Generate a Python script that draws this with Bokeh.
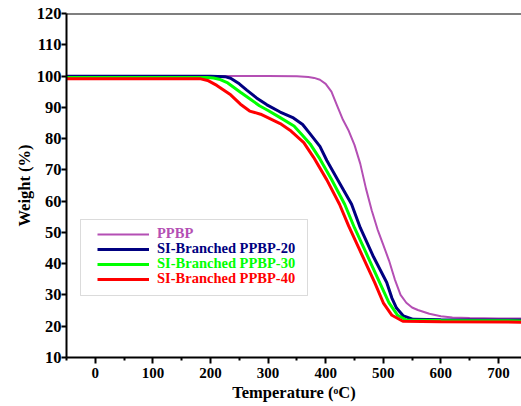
from bokeh.plotting import figure
from bokeh.models import Legend, LegendItem, Span, BoxAnnotation, FixedTicker, Range1d
from bokeh.embed import file_html
from bokeh.resources import INLINE

# ---------------- data ----------------
PPBP_T = [-50, 100, 200, 300, 350, 370, 380, 390, 400, 410, 420, 430, 440, 450, 460,
          470, 480, 490, 500, 510, 520, 530, 540, 550, 560, 580, 600, 620, 650, 700, 740]
PPBP_W = [100, 100, 100, 100, 99.9, 99.7, 99.4, 98.8, 97.5, 95.0, 90.5, 86.0, 82.5, 78.0, 72.0,
          64.0, 57.0, 51.0, 46.0, 41.0, 35.0, 30.0, 27.5, 26.0, 25.2, 24.0, 23.2, 22.8, 22.6, 22.5, 22.5]

SI20_T = [-50, 200, 225, 235, 250, 263, 280, 298, 321, 344, 360, 373, 390, 402, 425, 445,
          460, 483, 506, 515, 523, 535, 552, 600, 740]
SI20_W = [99.9, 99.9, 99.8, 99.3, 97.5, 95.5, 93.0, 90.8, 88.5, 86.6, 84.5, 81.5, 77.5, 73.0, 65.5, 59.0,
          51.5, 42.2, 34.0, 29.0, 25.8, 23.3, 22.2, 22.1, 22.0]

SI30_T = [-50, 195, 205, 215, 230, 252, 270, 285, 300, 321, 345, 360, 373, 390, 410, 433,
          450, 470, 495, 510, 525, 540, 600, 740]
SI30_W = [99.5, 99.5, 99.4, 99.0, 97.8, 94.8, 92.5, 90.5, 89.0, 86.7, 84.0, 81.0, 78.3, 73.5, 67.0, 59.0,
          51.5, 43.5, 33.5, 27.5, 23.5, 22.0, 21.8, 21.7]

SI40_T = [-50, 183, 195, 211, 235, 252, 268, 287, 321, 338, 362, 379, 402, 424, 440, 460,
          485, 500, 515, 534, 600, 740]
SI40_W = [99.1, 99.1, 98.6, 97.0, 94.0, 91.0, 88.8, 87.8, 84.8, 82.7, 78.7, 74.0, 66.8, 59.0, 52.0, 44.0,
          34.0, 27.5, 23.5, 21.6, 21.4, 21.3]

SERIES_NAMES = ["PPBP", "SI-Branched PPBP-20", "SI-Branched PPBP-30", "SI-Branched PPBP-40"]
X_TICKS = [0, 100, 200, 300, 400, 500, 600, 700]
X_MINOR = [-50, 50, 150, 250, 350, 450, 550, 650]
Y_TICKS = [10, 20, 30, 40, 50, 60, 70, 80, 90, 100, 110, 120]

# ---------------- styling ----------------
FONT = "Liberation Serif"
COLORS = ["#B44FB4", "#000080", "#00FF00", "#FF0000"]
WIDTHS = [2, 3, 3, 3]

p = figure(width=521, height=406, output_backend="svg", toolbar_location=None,
           x_range=Range1d(-50, 740), y_range=Range1d(10, 120),
           min_border_left=66, min_border_right=0, min_border_top=13, min_border_bottom=49)
p.outline_line_color = None
p.xgrid.visible = False
p.ygrid.visible = False
p.background_fill_color = "white"
p.border_fill_color = "white"

renderers = []
for xs, ys, c, w in zip([PPBP_T, SI20_T, SI30_T, SI40_T], [PPBP_W, SI20_W, SI30_W, SI40_W], COLORS, WIDTHS):
    renderers.append(p.line(xs, ys, line_color=c, line_width=w))

# axes
for ax in (p.xaxis[0], p.yaxis[0]):
    ax.axis_line_width = 2
    ax.axis_line_color = "black"
    ax.major_tick_line_width = 2
    ax.major_tick_line_color = "black"
    ax.major_tick_in = 0
    ax.major_label_text_font = FONT
    ax.major_label_text_font_style = "bold"
    ax.major_label_text_color = "black"
    ax.axis_label_text_font = FONT
    ax.axis_label_text_font_style = "bold"
    ax.axis_label_text_font_size = "16.5px"
    ax.axis_label_text_color = "black"

p.xaxis.ticker = FixedTicker(ticks=X_TICKS, minor_ticks=X_MINOR)
p.xaxis.major_tick_out = 6
p.xaxis.minor_tick_in = 0
p.xaxis.minor_tick_out = 3
p.xaxis.minor_tick_line_width = 2
p.xaxis.minor_tick_line_color = "black"
p.xaxis.major_label_text_font_size = "15px"
p.xaxis.major_label_standoff = 4
p.xaxis.axis_label = "Temperature (ᵒC)"
p.xaxis.axis_label_standoff = 2

p.yaxis.ticker = FixedTicker(ticks=Y_TICKS)
p.yaxis.major_tick_out = 5
p.yaxis.minor_tick_line_color = None
p.yaxis.major_label_text_font_size = "16.5px"
p.yaxis.major_label_standoff = 0
p.yaxis.axis_label = "Weight (%)"
p.yaxis.axis_label_standoff = 0

# top border line
p.add_layout(Span(location=120, dimension="width", line_color="black", line_width=2))

# legend box and entries (screen units, relative to the plot frame)
p.add_layout(BoxAnnotation(left=14, right=241, top=138, bottom=62,
                           left_units="screen", right_units="screen",
                           top_units="screen", bottom_units="screen",
                           fill_alpha=0, line_color="#888888", line_width=1))
LEG_Y = [115, 100, 85, 70]
for name, r, c, ly in zip(SERIES_NAMES, renderers, COLORS, LEG_Y):
    leg = Legend(items=[LegendItem(label=name, renderers=[r])], location=(31, ly),
                 border_line_color=None, background_fill_alpha=0, padding=0, margin=0,
                 glyph_width=52, glyph_height=14, label_height=14, label_standoff=8,
                 label_text_font=FONT, label_text_font_style="bold",
                 label_text_font_size="14.5px", label_text_color=c)
    p.add_layout(leg)

open("out.html", "w").write(file_html(p, INLINE))
